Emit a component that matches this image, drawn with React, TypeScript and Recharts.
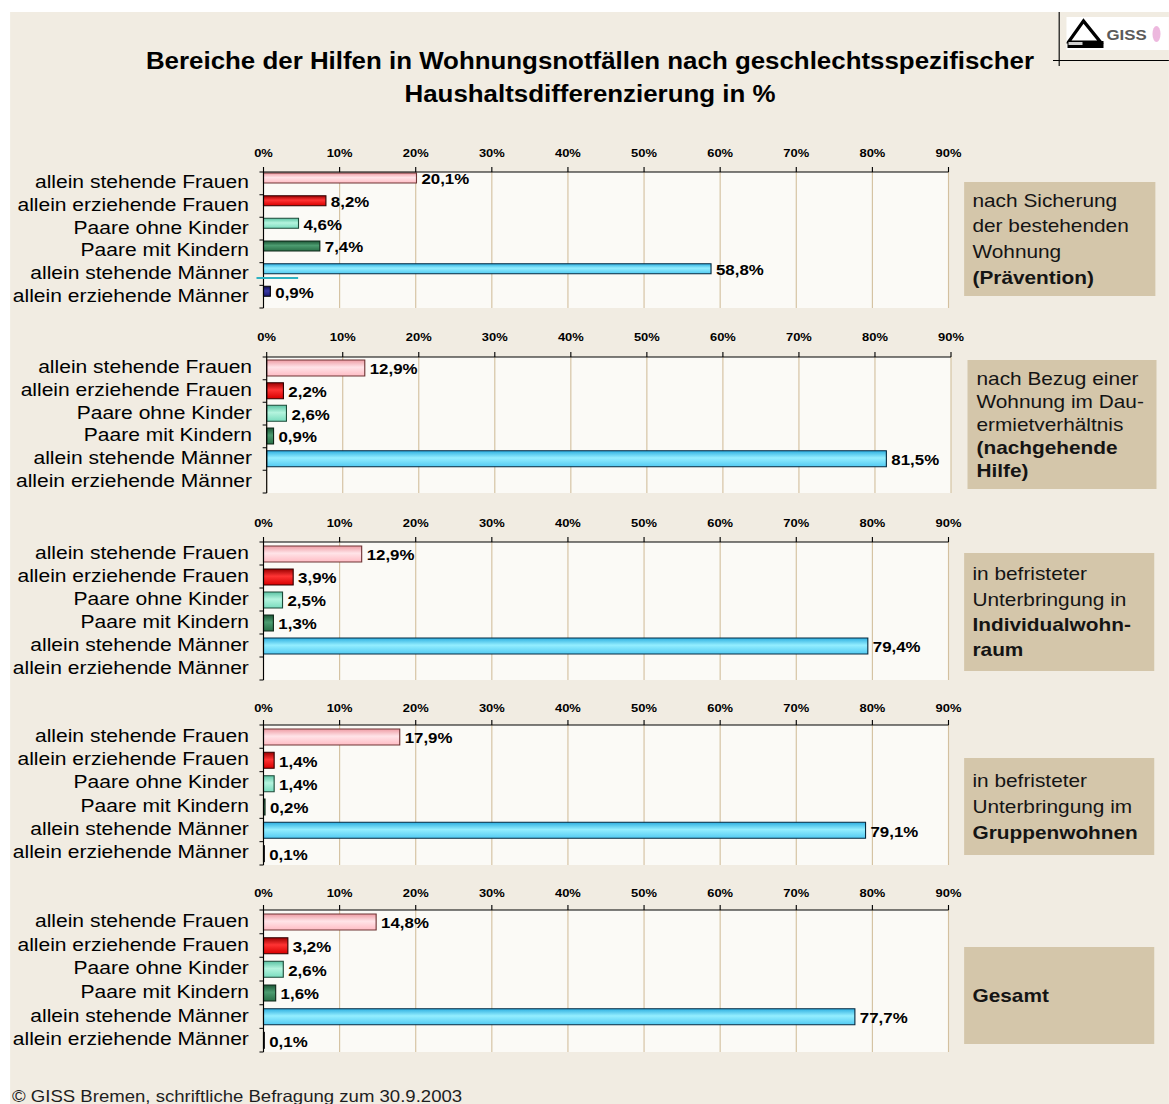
import React from 'react';
import { BarChart, Bar, XAxis, YAxis, CartesianGrid, Cell, LabelList } from 'recharts';

// horizontal stretch of the original rendering
const S = 1.125;
const FONT = '"Liberation Sans", Arial, Helvetica, sans-serif';

const categories = [
  'allein stehende Frauen',
  'allein erziehende Frauen',
  'Paare ohne Kinder',
  'Paare mit Kindern',
  'allein stehende Männer',
  'allein erziehende Männer',
];

const praevention: (number | null)[] = [20.1, 8.2, 4.6, 7.4, 58.8, 0.9];
const nachgehend: (number | null)[] = [12.9, 2.2, 2.6, 0.9, 81.5, null];
const individualwohnraum: (number | null)[] = [12.9, 3.9, 2.5, 1.3, 79.4, null];
const gruppenwohnen: (number | null)[] = [17.9, 1.4, 1.4, 0.2, 79.1, 0.1];
const gesamt: (number | null)[] = [14.8, 3.2, 2.6, 1.6, 77.7, 0.1];

const xTicks = [0, 10, 20, 30, 40, 50, 60, 70, 80, 90];

const boxTexts = [
  [{ t: 'nach Sicherung' }, { t: 'der bestehenden' }, { t: 'Wohnung' }, { t: '(Prävention)', b: true }],
  [{ t: 'nach Bezug einer' }, { t: 'Wohnung im Dau-' }, { t: 'ermietverhältnis' }, { t: '(nachgehende', b: true }, { t: 'Hilfe)', b: true }],
  [{ t: 'in befristeter' }, { t: 'Unterbringung in' }, { t: 'Individualwohn-', b: true }, { t: 'raum', b: true }],
  [{ t: 'in befristeter' }, { t: 'Unterbringung im' }, { t: 'Gruppenwohnen', b: true }],
  [{ t: 'Gesamt', b: true }],
];

const palette = [
  { top: '#EE9CA4', mid: '#FFE4E8', bottom: '#FFBCC4', stroke: '#6E3434' },
  { top: '#9A0000', mid: '#FF3434', bottom: '#D80000', stroke: '#300000' },
  { top: '#5CC4A4', mid: '#B4F4DE', bottom: '#7ADCBE', stroke: '#1C4A38' },
  { top: '#1C5636', mid: '#4C9C70', bottom: '#2A7048', stroke: '#0E2618' },
  { top: '#2CAEE0', mid: '#94EEFF', bottom: '#52CAF2', stroke: '#062A40' },
  { top: '#0E0E4C', mid: '#3A3AA6', bottom: '#1A1A70', stroke: '#000000' },
];

type PanelCfg = {
  values: (number | null)[];
  axisY: number;
  plotH: number;
  plotLeft: number; // real px
  plotRight: number; // real px
  thin: boolean;
  tickMargin: number;
  box: { left: number; top: number; width: number; height: number; lh: number };
  texts: { t: string; b?: boolean }[];
};

const panels: PanelCfg[] = [
  { values: praevention, axisY: 172, plotH: 136, plotLeft: 263.5, plotRight: 948.5, thin: true, tickMargin: 10,
    box: { left: 964, top: 182, width: 191, height: 114, lh: 25.7 }, texts: boxTexts[0] },
  { values: nachgehend, axisY: 357, plotH: 136, plotLeft: 266.7, plotRight: 951, thin: false, tickMargin: 11,
    box: { left: 968, top: 360, width: 189, height: 129, lh: 23 }, texts: boxTexts[1] },
  { values: individualwohnraum, axisY: 542, plotH: 138, plotLeft: 263.5, plotRight: 948.5, thin: false, tickMargin: 10,
    box: { left: 964, top: 553, width: 190, height: 118, lh: 25.4 }, texts: boxTexts[2] },
  { values: gruppenwohnen, axisY: 725, plotH: 140, plotLeft: 263.5, plotRight: 948.5, thin: false, tickMargin: 8,
    box: { left: 964, top: 758, width: 190, height: 97, lh: 26 }, texts: boxTexts[3] },
  { values: gesamt, axisY: 910, plotH: 142, plotLeft: 263.5, plotRight: 948.5, thin: false, tickMargin: 8,
    box: { left: 964, top: 947, width: 190, height: 97, lh: 26 }, texts: boxTexts[4] },
];

const fmt = (v: number) => `${v.toFixed(1).replace('.', ',')}%`;

const ValueLabel = (props: any) => {
  const { x, y, width, height, value } = props;
  if (value === null || value === undefined || value === '') return null;
  return (
    <text
      x={Number(x) + Number(width) + 4.4}
      y={Number(y) + Number(height) / 2 + 1}
      dy="0.35em"
      fontFamily={FONT}
      fontWeight="bold"
      fontSize={15}
      fill="#000"
    >
      {fmt(Number(value))}
    </text>
  );
};

function makeCatTick(plotLeft: number, band: number, n: number) {
  return (props: any) => {
    const { y, payload } = props;
    const i = props.index ?? payload?.index ?? 0;
    return (
      <g>
        <text
          x={plotLeft - 13}
          y={y - 1.5}
          dy="0.35em"
          textAnchor="end"
          fontFamily={FONT}
          fontSize={18.7}
          fill="#000"
        >
          {payload.value}
        </text>
        <line x1={plotLeft - 3.6} x2={plotLeft} y1={y - band / 2} y2={y - band / 2} stroke="#000" strokeWidth={1} />
        {i === n - 1 && (
          <line x1={plotLeft - 3.6} x2={plotLeft} y1={y + band / 2} y2={y + band / 2} stroke="#000" strokeWidth={1} />
        )}
      </g>
    );
  };
}

function Panel({ cfg, idx }: { cfg: PanelCfg; idx: number }) {
  const CW = 860;
  const plotLeft = cfg.plotLeft / S;
  const plotRight = cfg.plotRight / S;
  const band = cfg.plotH / categories.length;
  const data = categories.map((name, i) => ({ name, value: cfg.values[i] }));
  return (
    <div style={{ position: 'absolute', left: 0, top: cfg.axisY - 30 }}>
      <BarChart
        width={CW}
        height={30 + cfg.plotH + 2}
        data={data}
        layout="vertical"
        margin={{ top: 0, right: CW - plotRight, bottom: 2, left: 0 }}
        barGap={0}
        barSize={cfg.thin ? 10 : 16}
      >
        <defs>
          {palette.map((p, i) => (
            <linearGradient key={i} id={`bg${idx}_${i}`} x1="0" y1="0" x2="0" y2="1">
              <stop offset="0%" stopColor={p.top} />
              <stop offset="45%" stopColor={p.mid} />
              <stop offset="100%" stopColor={p.bottom} />
            </linearGradient>
          ))}
        </defs>
        <CartesianGrid horizontal={false} stroke="#D3C09F" fill="#FBFAF6" />
        <XAxis
          type="number"
          orientation="top"
          domain={[0, 90]}
          ticks={xTicks}
          interval={0}
          tickFormatter={(v: number) => `${v}%`}
          height={30}
          axisLine={{ stroke: '#000' }}
          tickLine={{ stroke: '#000' }}
          tickSize={5}
          tickMargin={cfg.tickMargin}
          tick={{ fontSize: 11.5, fontWeight: 'bold', fill: '#000', fontFamily: FONT }}
        />
        <YAxis
          type="category"
          dataKey="name"
          width={plotLeft}
          interval={0}
          axisLine={{ stroke: '#000' }}
          tickLine={false}
          tick={makeCatTick(plotLeft, band, categories.length)}
        />
        <Bar dataKey="value" isAnimationActive={false}>
          {data.map((_, i) => (
            <Cell key={i} fill={`url(#bg${idx}_${i})`} stroke={palette[i].stroke} strokeWidth={1} />
          ))}
          <LabelList dataKey="value" content={ValueLabel} />
        </Bar>
        {cfg.thin && <Bar dataKey="spacer" fill="none" isAnimationActive={false} />}
      </BarChart>
    </div>
  );
}

function SideBox({ cfg }: { cfg: PanelCfg }) {
  const b = cfg.box;
  return (
    <div
      style={{
        position: 'absolute',
        left: b.left / S,
        top: b.top,
        width: b.width / S,
        height: b.height,
        background: '#D4C6AA',
        display: 'flex',
        flexDirection: 'column',
        justifyContent: 'center',
        paddingLeft: 8.5 / S,
        boxSizing: 'border-box',
        fontFamily: FONT,
        fontSize: 18.5,
        lineHeight: `${b.lh}px`,
        color: '#141414',
        whiteSpace: 'nowrap',
      }}
    >
      {cfg.texts.map((l, i) => (
        <div key={i} style={{ fontWeight: l.b ? 'bold' : 'normal' }}>
          {l.t}
        </div>
      ))}
    </div>
  );
}

function Logo() {
  return (
    <>
      <div style={{ position: 'absolute', left: 1059 / S, top: 12, width: 1 / S, height: 54, background: '#000' }} />
      <div style={{ position: 'absolute', left: 1053 / S, top: 60, width: (1169 - 1053) / S, height: 1, background: '#000' }} />
      <div style={{ position: 'absolute', left: 1066 / S, top: 17, width: 103 / S, height: 33, background: '#fff' }}>
        <svg width={103 / S} height={33} viewBox={`0 0 ${103 / S} 33`} style={{ display: 'block' }}>
          <polygon points={`${2 / S},25 ${17 / S},4 ${34 / S},25`} fill="none" stroke="#000" strokeWidth={3} />
          <rect x={1 / S} y={24} width={36 / S} height={7} fill="#000" />
          <rect x={2 / S} y={25} width={14 / S} height={3} fill="#CFCFCF" />
          <text x={40 / S} y={23} fontFamily={FONT} fontWeight="bold" fontSize={15} fill="#5A5A5A">GISS</text>
          <ellipse cx={90 / S} cy={17} rx={4 / S} ry={8} fill="#E9A6D6" opacity={0.8} />
        </svg>
      </div>
    </>
  );
}

export default function App() {
  return (
    <div
      style={{
        position: 'absolute',
        left: 0,
        top: 0,
        width: 1169 / S,
        height: 1104,
        overflow: 'hidden',
        background: '#FFFFFF',
        transform: `scaleX(${S})`,
        transformOrigin: '0 0',
      }}
    >
      <div style={{ position: 'absolute', left: 10 / S, top: 12, width: (1169 - 10) / S, height: 1104 - 12, background: '#F1ECE2' }} />
      <div
        style={{
          position: 'absolute',
          left: 0,
          top: 45,
          width: (590 * 2) / S,
          textAlign: 'center',
          fontFamily: FONT,
          fontWeight: 'bold',
          fontSize: 23,
          lineHeight: '33px',
          color: '#000',
        }}
      >
        <div>Bereiche der Hilfen in Wohnungsnotfällen nach geschlechtsspezifischer</div>
        <div>Haushaltsdifferenzierung in %</div>
      </div>
      <Logo />
      {panels.map((p, i) => (
        <Panel key={i} cfg={p} idx={i} />
      ))}
      {panels.map((p, i) => (
        <SideBox key={`b${i}`} cfg={p} />
      ))}
      <div style={{ position: 'absolute', left: 256 / S, top: 277, width: 42 / S, height: 1.5, background: '#2FB2C2' }} />
      <div
        style={{
          position: 'absolute',
          left: 12 / S,
          top: 1087,
          fontFamily: FONT,
          fontSize: 16.5,
          lineHeight: '19.8px',
          color: '#1E1E1E',
          whiteSpace: 'nowrap',
        }}
      >
        © GISS Bremen, schriftliche Befragung zum 30.9.2003
      </div>
    </div>
  );
}
